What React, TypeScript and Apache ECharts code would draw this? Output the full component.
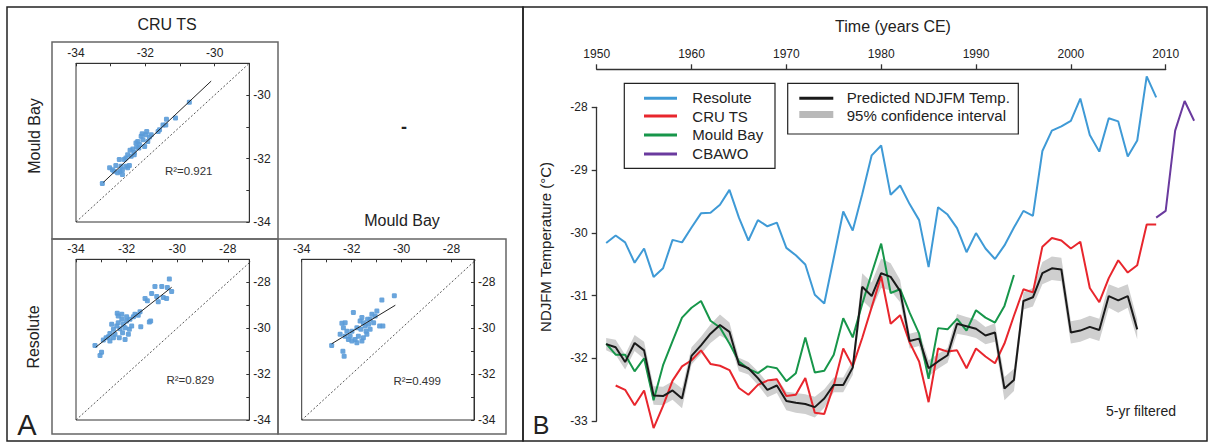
import React, { useEffect, useRef } from "react";
import * as echarts from "echarts";

const FONT = '"Liberation Sans", Arial, Helvetica, sans-serif';

// ---------- Panel B: time series (NDJFM temperature, °C) ----------
const yearRange = [1950, 2010];
const tempRange = [-33, -28];

const resoluteStart = 1951;
const resolute = [
  -30.21, -30.09, -30.2, -30.53, -30.3, -30.76, -30.62, -30.16, -30.2, -29.96,
  -29.73, -29.72, -29.59, -29.35, -29.8, -30.17, -29.84, -29.94, -29.88, -30.29,
  -30.41, -30.56, -31.05, -31.19, -30.45, -29.7, -30.01, -29.42, -28.79, -28.63,
  -29.43, -29.28, -29.58, -29.84, -30.6, -29.63, -29.75, -29.97, -30.36, -30.05,
  -30.3, -30.47, -30.25, -29.96, -29.69, -29.77, -28.72, -28.39, -28.32, -28.23,
  -27.87, -28.46, -28.73, -28.19, -28.24, -28.81, -28.55, -27.51, -27.85,
];

const cruStart = 1952;
const cru = [
  -32.52, -32.59, -32.84, -32.6, -33.21, -32.85, -32.44, -32.21, -32.11, -31.95,
  -32.17, -32.2, -32.27, -32.56, -32.67, -32.51, -32.44, -32.42, -32.69, -32.67,
  -32.4, -32.96, -32.98, -32.52, -31.92, -32.21, -31.75, -31.25, -30.75, -31.52,
  -31.38, -31.82, -32.13, -32.79, -31.92, -31.97, -31.95, -32.24, -31.92, -32.05,
  -32.16, -31.84, -31.39, -30.96, -31.01, -30.27, -30.13, -30.17, -30.3, -30.19,
  -30.94, -31.17, -30.78, -30.49, -30.69, -30.57, -29.91, -29.91,
];

const mouldStart = 1951;
const mould = [
  -31.84, -32.02, -32.02, -32.29, -32.08, -32.76, -32.19, -31.8, -31.42, -31.26,
  -31.15, -31.47, -31.58, -31.84, -32.13, -32.25, -32.32, -32.21, -32.24, -32.45,
  -32.32, -31.74, -32.31, -32.28, -32.02, -31.43, -31.74, -31.2, -30.7, -30.22,
  -31.02, -30.96, -31.34, -31.68, -32.41, -31.59, -31.61, -31.44, -31.63, -31.3,
  -31.42, -31.5, -31.23, -30.73,
];

const cbawoStart = 2009;
const cbawo = [-29.8, -29.69, -28.39, -27.91, -28.23];

const predStart = 1951;
const predicted = [
  -31.85, -31.9, -32.14, -31.83, -31.95, -32.68, -32.69, -32.6, -32.73, -32.04,
  -31.87, -31.68, -31.54, -31.65, -32.18, -32.24, -32.4, -32.59, -32.52, -32.77,
  -32.8, -32.82, -32.87, -32.73, -32.51, -32.51, -32.23, -30.92, -31.07, -30.7,
  -30.76, -30.99, -31.8, -31.76, -32.24, -32.13, -32.03, -31.52, -31.56, -31.6,
  -31.71, -31.66, -32.57, -32.43, -31.15, -31.09, -30.7, -30.62, -30.64, -31.66,
  -31.63, -31.57, -31.62, -31.07, -31.14, -31.07, -31.61,
];
// half-width of the 95% confidence interval, per year (same years as predicted)
const ciHalf = [
  0.1, 0.12, 0.12, 0.13, 0.14, 0.15, 0.15, 0.15, 0.16, 0.14,
  0.14, 0.15, 0.17, 0.15, 0.11, 0.1, 0.11, 0.12, 0.12, 0.15,
  0.16, 0.16, 0.17, 0.15, 0.12, 0.12, 0.12, 0.22, 0.22, 0.24,
  0.22, 0.18, 0.12, 0.12, 0.13, 0.12, 0.12, 0.16, 0.15, 0.15,
  0.14, 0.15, 0.19, 0.18, 0.14, 0.15, 0.18, 0.19, 0.19, 0.18,
  0.18, 0.18, 0.18, 0.19, 0.2, 0.19, 0.16,
];

// ---------- Panel A: scatter plots ----------
// Mould Bay (y) vs CRU TS (x)
const mouldVsCru: number[][] = [
  [-33.24, -32.79], [-33.03, -32.29], [-32.95, -32.35], [-32.85, -32.22], [-32.8, -32.45],
  [-32.73, -32.4], [-32.66, -32.35], [-32.61, -32.03], [-32.56, -32.24], [-32.51, -32.29],
  [-32.46, -32.22], [-32.66, -32.5], [-32.51, -31.88], [-32.44, -31.74], [-32.36, -31.7],
  [-32.32, -31.81], [-32.25, -31.64], [-32.22, -31.46], [-32.17, -31.56], [-32.12, -31.3],
  [-32.07, -31.41], [-32.02, -31.62], [-31.99, -31.25], [-31.96, -31.15], [-31.93, -31.46],
  [-31.88, -31.32], [-31.83, -31.25], [-32.09, -31.22], [-32.19, -31.67], [-32.27, -31.51],
  [-31.63, -31.15], [-31.59, -31.09], [-31.49, -30.94], [-31.39, -30.76], [-31.41, -30.94],
  [-31.13, -30.72], [-30.73, -30.23], [-32.32, -31.88], [-32.41, -31.93], [-32.56, -31.98],
  [-32.75, -32.03], [-32.9, -32.4], [-32.7, -32.24],
];
const mouldVsCruFit = [[-33.21, -32.75], [-30.1, -29.56]];
const mouldVsCruR2 = "R²=0.921";

// Resolute (y) vs CRU TS (x)
const resoluteVsCru: number[][] = [
  [-33.25, -30.75], [-33.05, -31.19], [-32.99, -31.05], [-32.92, -30.52], [-32.81, -30.42],
  [-32.72, -30.37], [-32.66, -30.23], [-32.59, -29.83], [-32.52, -30.05], [-32.46, -30.27],
  [-32.39, -29.91], [-32.37, -29.35], [-32.33, -29.76], [-32.29, -30.42], [-32.26, -30.02],
  [-32.19, -29.61], [-32.16, -30.2], [-32.13, -29.83], [-32.06, -29.98], [-32.0, -29.69],
  [-31.93, -30.27], [-31.87, -29.61], [-31.8, -29.91], [-31.73, -29.5], [-31.67, -29.39],
  [-31.54, -29.44], [-31.47, -29.29], [-31.44, -29.94], [-31.27, -28.71], [-31.18, -28.81],
  [-31.1, -29.73], [-31.05, -29.69], [-31.01, -28.49], [-30.81, -28.62], [-30.75, -28.85],
  [-30.88, -28.18], [-30.61, -28.18], [-30.55, -28.66], [-30.42, -28.71], [-30.39, -28.23],
  [-30.31, -27.86], [-30.22, -28.4], [-32.66, -30.56], [-32.52, -30.42], [-32.33, -29.47],
  [-32.06, -30.49], [-32.19, -29.39], [-32.0, -29.5], [-31.89, -30.05],
];
const resoluteVsCruFit = [[-33.22, -30.83], [-30.22, -28.22]];
const resoluteVsCruR2 = "R²=0.829";

// Resolute (y) vs Mould Bay (x)
const resoluteVsMould: number[][] = [
  [-32.8, -30.75], [-32.35, -31.0], [-32.3, -31.22], [-32.46, -30.27], [-32.39, -29.79],
  [-32.33, -29.98], [-32.26, -29.76], [-32.19, -30.13], [-32.13, -30.49], [-32.06, -30.35],
  [-31.99, -30.13], [-31.93, -29.32], [-31.86, -30.49], [-31.79, -29.98], [-31.73, -30.35],
  [-31.66, -29.69], [-31.63, -30.05], [-31.59, -29.54], [-31.53, -30.42], [-31.46, -29.91],
  [-31.42, -30.13], [-31.36, -29.61], [-31.32, -29.83], [-31.26, -30.05], [-31.19, -29.39],
  [-31.12, -29.76], [-31.06, -29.47], [-30.99, -29.25], [-30.88, -29.91], [-30.79, -28.77],
  [-30.75, -29.91], [-30.29, -28.59], [-31.99, -30.56], [-31.79, -30.64], [-31.59, -30.56],
  [-31.39, -30.27], [-32.26, -30.35], [-31.26, -29.61], [-31.53, -29.76],
];
const resoluteVsMouldFit = [[-32.8, -30.68], [-30.25, -29.0]];
const resoluteVsMouldR2 = "R²=0.499";

const oneToOneSmall = [[-34, -34], [-29, -29]];
const oneToOneLarge = [[-34, -34], [-27, -27]];

const COLORS = {
  resolute: "#3f9ad6",
  cru: "#e8262d",
  mould: "#17964a",
  cbawo: "#6a3a9e",
  pred: "#1a1a1a",
  ci: "#cfcfcf",
  point: "#5a9bd8",
};

const toPairs = (start: number, vals: number[]) => vals.map((v, i) => [start + i, v]);

function scatterAxes(gridIndex: number, xMax: number, yMax: number) {
  const lab = (v: number) => (Math.abs(v % 2) < 1e-9 ? String(v) : "");
  const common = {
    gridIndex,
    type: "value",
    min: -34,
    interval: 1,
    axisLine: { show: true, onZero: false, lineStyle: { color: "#333", width: 1 } },
    axisTick: { show: true, inside: true, length: 3, lineStyle: { color: "#333" } },
    splitLine: { show: false },
    axisLabel: { formatter: lab, fontSize: 12, color: "#222", fontFamily: FONT, margin: 4 },
  };
  return {
    x: { ...common, position: "top", max: xMax },
    y: { ...common, position: "right", max: yMax },
  };
}

function scatterSeries(gridIndex: number, pts: number[][], fit: number[][], diag: number[][]) {
  return [
    {
      type: "line",
      xAxisIndex: gridIndex,
      yAxisIndex: gridIndex,
      data: diag,
      symbol: "none",
      silent: true,
      lineStyle: { color: "#555", width: 1, type: [2, 2] },
      z: 2,
    },
    {
      type: "scatter",
      xAxisIndex: gridIndex,
      yAxisIndex: gridIndex,
      data: pts,
      symbol: "roundRect",
      symbolSize: 5,
      itemStyle: { color: COLORS.point, opacity: 0.9 },
      z: 3,
    },
    {
      type: "line",
      xAxisIndex: gridIndex,
      yAxisIndex: gridIndex,
      data: fit,
      symbol: "none",
      silent: true,
      lineStyle: { color: "#222", width: 1 },
      z: 4,
    },
  ];
}

export default function App() {
  const ref = useRef<HTMLDivElement>(null);

  useEffect(() => {
    if (!ref.current) return;
    const chart = echarts.init(ref.current, null, { renderer: "svg" });

    const ciUpper = predicted.map((v, i) => [predStart + i, v + ciHalf[i]]);
    const ciLower = predicted.map((v, i) => [predStart + i, v - ciHalf[i]]);

    const sA = scatterAxes(2, -29, -29);
    const sB = scatterAxes(3, -27.15, -27);
    const sC = scatterAxes(4, -27.1, -27);

    const text = (x: number, y: number, str: string, size: number, opts: any = {}) => ({
      type: "text",
      x,
      y,
      rotation: opts.rotation || 0,
      silent: true,
      z: 100,
      style: {
        text: str,
        fontSize: size,
        fontFamily: FONT,
        fontWeight: opts.weight || "normal",
        fill: opts.fill || "#222",
        align: opts.align || "center",
        verticalAlign: "middle",
      },
    });
    const rect = (x: number, y: number, w: number, h: number, stroke: string, lw: number) => ({
      type: "rect",
      silent: true,
      z: 50,
      shape: { x, y, width: w, height: h },
      style: { fill: "none", stroke, lineWidth: lw },
    });
    const seg = (x1: number, y1: number, x2: number, y2: number, stroke: string, lw: number) => ({
      type: "line",
      silent: true,
      z: 100,
      shape: { x1, y1, x2, y2 },
      style: { stroke, lineWidth: lw },
    });

    const option: any = {
      animation: false,
      backgroundColor: "#ffffff",
      textStyle: { fontFamily: FONT },
      grid: [
        // 0: year axis (top)
        { left: 596.7, top: 69.3, width: 569, height: 351.7, show: false },
        // 1: data grid for the time series
        { left: 587.2, top: 63.38, width: 616.4, height: 389, show: false },
        // 2-4: scatter plots
        { left: 76, top: 63.3, width: 173.3, height: 158.7, show: false },
        { left: 76, top: 259.3, width: 173.3, height: 160.7, show: false },
        { left: 301.7, top: 259.3, width: 172.3, height: 160.7, show: false },
        // 5: temperature axis (left)
        { left: 596.7, top: 107.3, width: 569, height: 313.7, show: false },
      ],
      xAxis: [
        {
          gridIndex: 0,
          type: "value",
          position: "top",
          min: yearRange[0],
          max: yearRange[1],
          interval: 10,
          axisLine: { show: true, onZero: false, lineStyle: { color: "#333", width: 1.3 } },
          axisTick: { show: true, inside: false, length: 5, lineStyle: { color: "#333", width: 1.3 } },
          axisLabel: { fontSize: 12, color: "#222", fontFamily: FONT, margin: 9, formatter: (v: number) => String(v) },
          splitLine: { show: false },
        },
        { gridIndex: 1, type: "value", min: 1949, max: 2014, show: false, splitLine: { show: false } },
        sA.x,
        sB.x,
        sC.x,
        { gridIndex: 5, type: "value", min: yearRange[0], max: yearRange[1], show: false, splitLine: { show: false } },
      ],
      yAxis: [
        { gridIndex: 0, type: "value", min: tempRange[0], max: -27, show: false, splitLine: { show: false } },
        { gridIndex: 1, type: "value", min: -33.5, max: -27.3, show: false, splitLine: { show: false } },
        sA.y,
        sB.y,
        sC.y,
        {
          gridIndex: 5,
          type: "value",
          position: "left",
          min: tempRange[0],
          max: tempRange[1],
          interval: 1,
          axisLine: { show: true, onZero: false, lineStyle: { color: "#333", width: 1.3 } },
          axisTick: { show: true, inside: false, length: 5, lineStyle: { color: "#333", width: 1.3 } },
          axisLabel: { fontSize: 12, color: "#222", fontFamily: FONT, margin: 9 },
          splitLine: { show: false },
        },
      ],
      series: [
        {
          name: "95% confidence interval",
          type: "custom",
          xAxisIndex: 1,
          yAxisIndex: 1,
          data: [[1980, -31]],
          silent: true,
          z: 1,
          renderItem: (_p: any, api: any) => {
            const up = ciUpper.map((d) => api.coord(d));
            const lo = ciLower.map((d) => api.coord(d)).reverse();
            return {
              type: "polygon",
              shape: { points: up.concat(lo) },
              style: { fill: COLORS.ci, stroke: "none" },
            };
          },
        },
        {
          name: "Resolute",
          type: "line",
          xAxisIndex: 1,
          yAxisIndex: 1,
          data: toPairs(resoluteStart, resolute),
          symbol: "none",
          lineStyle: { color: COLORS.resolute, width: 2 },
          z: 3,
        },
        {
          name: "Mould Bay",
          type: "line",
          xAxisIndex: 1,
          yAxisIndex: 1,
          data: toPairs(mouldStart, mould),
          symbol: "none",
          lineStyle: { color: COLORS.mould, width: 2 },
          z: 3,
        },
        {
          name: "CRU TS",
          type: "line",
          xAxisIndex: 1,
          yAxisIndex: 1,
          data: toPairs(cruStart, cru),
          symbol: "none",
          lineStyle: { color: COLORS.cru, width: 2 },
          z: 4,
        },
        {
          name: "CBAWO",
          type: "line",
          xAxisIndex: 1,
          yAxisIndex: 1,
          data: toPairs(cbawoStart, cbawo),
          symbol: "none",
          lineStyle: { color: COLORS.cbawo, width: 2 },
          z: 4,
        },
        {
          name: "Predicted NDJFM Temp.",
          type: "line",
          xAxisIndex: 1,
          yAxisIndex: 1,
          data: toPairs(predStart, predicted),
          symbol: "none",
          lineStyle: { color: COLORS.pred, width: 2 },
          z: 5,
        },
        ...scatterSeries(2, mouldVsCru, mouldVsCruFit, oneToOneSmall),
        ...scatterSeries(3, resoluteVsCru, resoluteVsCruFit, oneToOneLarge),
        ...scatterSeries(4, resoluteVsMould, resoluteVsMouldFit, oneToOneLarge),
      ],
      graphic: [
        // outer frames
        rect(7, 7, 516, 434, "#222", 1.5),
        rect(523, 7, 684, 434, "#222", 1.5),
        // panel A cell frames
        rect(52, 42, 226, 197, "#666", 1.5),
        rect(52, 239, 226, 195, "#666", 1.5),
        rect(278, 239, 228, 195, "#666", 1.5),
        // scatter plot boxes
        rect(76, 63.3, 173.3, 158.7, "#333", 1),
        rect(76, 259.3, 173.3, 160.7, "#333", 1),
        rect(301.7, 259.3, 172.3, 160.7, "#333", 1),
        // panel A texts
        text(167, 24, "CRU TS", 16),
        text(34, 136, "Mould Bay", 16, { rotation: Math.PI / 2 }),
        text(33, 337, "Resolute", 16, { rotation: Math.PI / 2 }),
        text(402, 220.5, "Mould Bay", 16),
        text(404, 126.5, "-", 18, { weight: "bold" }),
        text(188.7, 171, mouldVsCruR2, 11.5, { fill: "#333" }),
        text(190.3, 380, resoluteVsCruR2, 11.5, { fill: "#333" }),
        text(417.2, 380.5, resoluteVsMouldR2, 11.5, { fill: "#333" }),
        text(27, 425, "A", 29),
        // panel B texts
        text(893, 26, "Time (years CE)", 16),
        text(545, 247, "NDJFM Temperature (°C)", 15, { rotation: Math.PI / 2 }),
        text(1141, 411, "5-yr filtered", 14),
        text(541, 425, "B", 25),
        // legend 1
        rect(624.3, 83.3, 150.7, 85, "#222", 1.2),
        seg(644, 98.3, 677, 98.3, COLORS.resolute, 3),
        seg(644, 116, 677, 116, COLORS.cru, 3),
        seg(644, 135, 677, 135, COLORS.mould, 3),
        seg(644, 154, 677, 154, COLORS.cbawo, 3),
        text(692.3, 97.5, "Resolute", 15, { align: "left" }),
        text(692.3, 116, "CRU TS", 15, { align: "left" }),
        text(692.3, 134.5, "Mould Bay", 15, { align: "left" }),
        text(692.3, 153.5, "CBAWO", 15, { align: "left" }),
        // legend 2
        rect(787.7, 83.3, 230.6, 50.7, "#222", 1.2),
        seg(799.3, 98.3, 833.3, 98.3, COLORS.pred, 3),
        seg(799.3, 114.5, 833.3, 114.5, "#b9b9b9", 7),
        text(846.7, 97.5, "Predicted NDJFM Temp.", 15, { align: "left" }),
        text(846.7, 115.5, "95% confidence interval", 15, { align: "left" }),
      ],
    };

    chart.setOption(option);
    return () => chart.dispose();
  }, []);

  return (
    <div
      ref={ref}
      style={{ position: "fixed", left: 0, top: 0, width: 1208, height: 446, background: "#fff" }}
    />
  );
}
